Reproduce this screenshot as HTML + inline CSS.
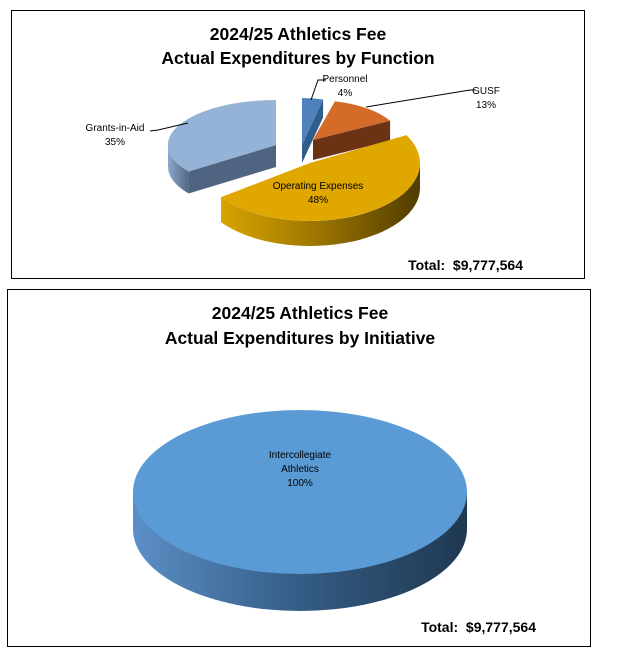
<!DOCTYPE html>
<html><head><meta charset="utf-8"><style>
body{margin:0;background:#fff;width:618px;height:657px;overflow:hidden}
svg{display:block}
</style></head><body>
<svg id="s" width="618" height="657" xmlns="http://www.w3.org/2000/svg" font-family="'Liberation Sans',sans-serif">
<defs>
<linearGradient id="gOp" x1="0" x2="1"><stop offset="0" stop-color="#d8a400"/><stop offset="0.4" stop-color="#a87e00"/><stop offset="1" stop-color="#4f3c00"/></linearGradient>
<linearGradient id="gGr" x1="0" x2="1"><stop offset="0" stop-color="#8ea9cc"/><stop offset="1" stop-color="#526883"/></linearGradient>
<linearGradient id="gB" x1="0" x2="1"><stop offset="0" stop-color="#5b8fc6"/><stop offset="0.5" stop-color="#345c85"/><stop offset="1" stop-color="#1f3850"/></linearGradient>
</defs>
<rect x="11.5" y="10.5" width="573" height="268" fill="#fff" stroke="#000"/>
<rect x="7.5" y="289.5" width="583" height="357" fill="#fff" stroke="#000"/>
<g font-weight="bold" font-size="17.5" text-anchor="middle" fill="#000">
<text x="298" y="40">2024/25 Athletics Fee</text>
<text x="298" y="64">Actual Expenditures by Function</text>
<text x="300" y="319">2024/25 Athletics Fee</text>
<text x="300" y="344">Actual Expenditures by Initiative</text>
</g>
<g id="pie"></g>
<path d="M133,492 L133,529 A167,82 0 0 0 467,529 L467,492 Z" fill="url(#gB)"/>
<ellipse cx="300" cy="492" rx="167" ry="82" fill="#5b9bd5"/>
<g stroke="#000" stroke-width="1" fill="none">
<polyline points="311,100 318,80 326,80"/>
<polyline points="366,107 470,90 476,90"/>
<polyline points="150,131 158,130 188,123"/>
</g>
<g font-size="10" fill="#000" text-anchor="middle">
<text x="300" y="458">Intercollegiate</text>
<text x="300" y="472">Athletics</text>
<text x="300" y="486">100%</text>
<text x="345" y="82">Personnel</text>
<text x="345" y="96">4%</text>
<text x="486" y="94">GUSF</text>
<text x="486" y="108">13%</text>
<text x="115" y="131">Grants-in-Aid</text>
<text x="115" y="145">35%</text>
<text x="318" y="189">Operating Expenses</text>
<text x="318" y="203">48%</text>
</g>
<g font-weight="bold" font-size="14" fill="#000" text-anchor="end">
<text x="523" y="270">Total:&#160; $9,777,564</text>
<text x="536" y="632">Total:&#160; $9,777,564</text>
</g>
</svg>
<script>
(function(){
var g=document.getElementById('pie'),ns='http://www.w3.org/2000/svg';
function add(d,f){var p=document.createElementNS(ns,'path');p.setAttribute('d',d);p.setAttribute('fill',f);g.appendChild(p);}
function slice(c,rx,ry,D,a0,a1,top,side,wall){
  function P(a){var r=a*Math.PI/180;return [c[0]+rx*Math.sin(r),c[1]-ry*Math.cos(r)];}
  function s(p){return p[0].toFixed(1)+','+p[1].toFixed(1);}
  function dn(p){return [p[0],p[1]+D];}
  function face(a){var p=P(a);add('M'+s(c)+' L'+s(p)+' L'+s(dn(p))+' L'+s(dn(c))+'Z',side);}
  if(Math.sin(a0*Math.PI/180)<-0.01)face(a0);
  if(Math.sin(a1*Math.PI/180)>0.01)face(a1);
  var b=Math.max(a0,90),e=Math.min(a1,270);
  if(e>b){var pb=P(b),pe=P(e),l=(e-b)>180?1:0;
    add('M'+s(pb)+' A'+rx+','+ry+' 0 '+l+' 1 '+s(pe)+' L'+s(dn(pe))+' A'+rx+','+ry+' 0 '+l+' 0 '+s(dn(pb))+'Z',wall);}
  var p0=P(a0),p1=P(a1),L=(a1-a0)>180?1:0;
  add('M'+s(c)+' L'+s(p0)+' A'+rx+','+ry+' 0 '+L+' 1 '+s(p1)+'Z',top);
}
slice([302,145],85,47,18,0,14.4,'#4f81bd','#2f5d8c','#2f5d8c');
slice([313,140],88,40,20,14.4,61.2,'#d46b29','#6b3313','#6b3313');
slice([276,145],108,45,22,234,360,'#95b3d7','#4f6480','url(#gGr)');
slice([310,163],110,58,25,61.2,234,'#dfa700','#6b5200','url(#gOp)');
})();
</script>
</body></html>
